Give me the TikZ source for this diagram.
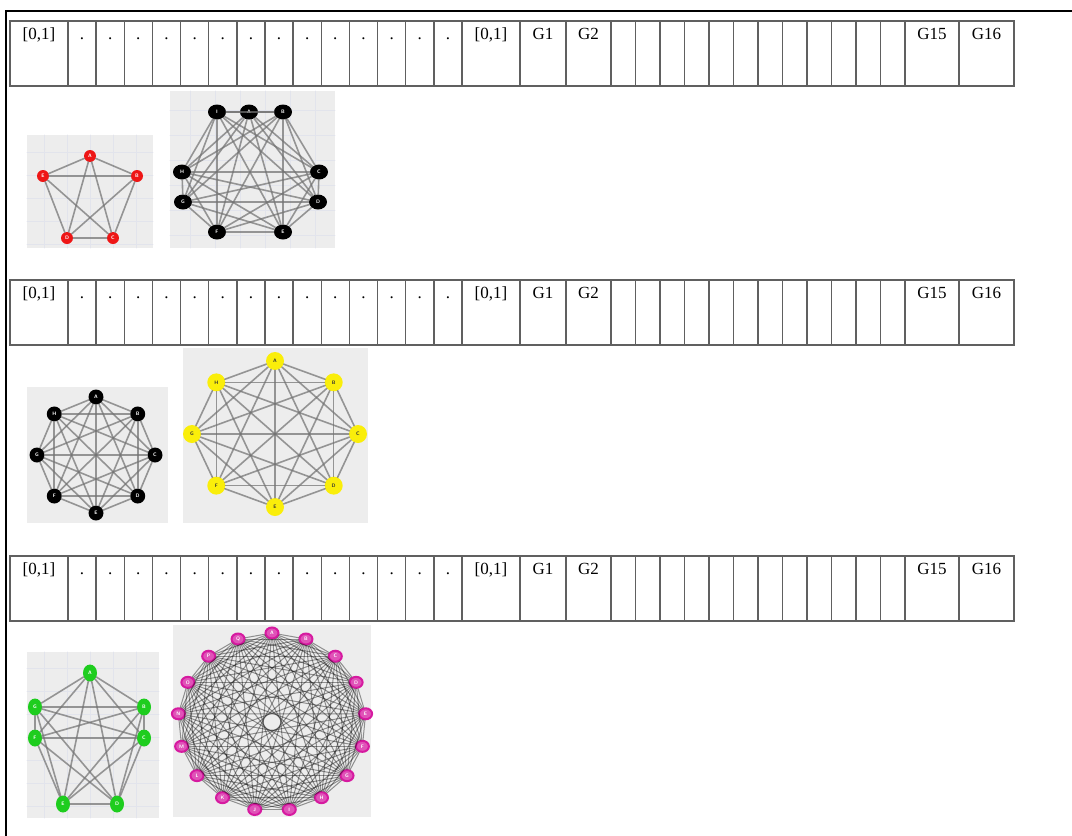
\documentclass[tikz,border=0pt]{standalone}
\usepackage{fontspec}
\setmainfont{Liberation Serif}
\usepackage{tikz}
\usetikzlibrary{shapes.geometric}
\usepackage{xcolor}
\definecolor{panelgray}{RGB}{237,237,237}
\definecolor{gridblue}{RGB}{226,228,236}
\definecolor{redvx}{RGB}{238,22,22}
\definecolor{yellowvx}{RGB}{250,238,10}
\definecolor{greenvx}{RGB}{30,205,30}
\definecolor{magentavx}{RGB}{214,26,160}

\begin{document}
\begin{tikzpicture}[x=1pt,y=-1pt,line cap=round,
  cellline/.style={draw=gray!75!black,line width=1.4pt},
  celltext/.style={anchor=base,inner sep=0pt,font=\fontsize{17}{20}\selectfont},
  panel/.style={fill=panelgray},
  gridln/.style={draw=gridblue,line width=0.7pt},
  edge/.style={draw=black!55,line width=1.6pt,opacity=0.72},
  thinedge/.style={draw=black,line width=1pt,opacity=0.4},
  vx/.style={inner sep=0pt,font=\fontsize{5}{5}\sffamily\bfseries},
  rvx/.style={vx,circle,fill=redvx,text=white,minimum size=12pt},
  kvx/.style={vx,ellipse,fill=black,text=white,minimum width=18pt,minimum height=15pt},
  bvx/.style={vx,circle,fill=black,text=white,minimum size=15pt},
  yvx/.style={vx,circle,fill=yellowvx,text=black!80,minimum size=18pt},
  gvx/.style={vx,ellipse,fill=greenvx,text=white,minimum width=14pt,minimum height=17pt},
  mvx/.style={vx,ellipse,fill=magentavx!75,draw=magentavx,line width=2pt,text=white,minimum width=13pt,minimum height=11pt}]
\useasboundingbox (0,0) rectangle (1072,836);
\fill[white] (0,0) rectangle (1072,836);
\draw[line width=2pt] (6,837) -- (6,11) -- (1073,11);

% the three rows of cells
\foreach \ty in {21,280,556}{
  \draw[cellline] (10,\ty) rectangle (1014,\ty+65);
  \foreach \cx in {68,462,520,566,611,905,959}
    \draw[cellline] (\cx,\ty) -- (\cx,\ty+65);
  \foreach \k in {1,...,13}
    \draw[cellline] (68+\k*28.143,\ty) -- (68+\k*28.143,\ty+65);
  \foreach \k in {1,...,11}
    \draw[cellline] (611+\k*24.5,\ty) -- (611+\k*24.5,\ty+65);
  \node[celltext] (lo\ty) at (39,\ty+18) {[0,1]};
  \foreach \k in {0,...,13}
    \node[celltext] (dot\ty-\k) at (82.07+\k*28.143,\ty+18) {.};
  \node[celltext] (hi\ty) at (491,\ty+18) {[0,1]};
  \node[celltext] (gone\ty) at (543,\ty+18) {G1};
  \node[celltext] (gtwo\ty) at (588.5,\ty+18) {G2};
  \node[celltext] (gfift\ty) at (932,\ty+18) {G15};
  \node[celltext] (gsixt\ty) at (986.5,\ty+18) {G16};
}

% row 1: red K5
\fill[panel] (27,135) rectangle (153,248);
\foreach \gx in {44,67,90,113,136} \draw[gridln] (\gx,135) -- (\gx,248);
\foreach \gy in {152,175,198,221,244} \draw[gridln] (27,\gy) -- (153,\gy);
\node[rvx] (r1) at (90,156) {A};
\node[rvx] (r2) at (137,176) {B};
\node[rvx] (r3) at (113,238) {C};
\node[rvx] (r4) at (67,238) {D};
\node[rvx] (r5) at (43,176) {E};
\foreach \i in {1,...,4}{
  \pgfmathtruncatemacro\ni{\i+1}
  \foreach \j in {\ni,...,5} \draw[edge] (r\i) -- (r\j);
}

% row 1: black K9
\fill[panel] (170,91) rectangle (335,248);
\foreach \gx in {190,215,240,265,290,315} \draw[gridln] (\gx,91) -- (\gx,248);
\foreach \gy in {110,135,160,185,210,235} \draw[gridln] (170,\gy) -- (335,\gy);
\node[kvx] (k1) at (249,112) {A};
\node[kvx] (k2) at (283,112) {B};
\node[kvx] (k3) at (319,172) {C};
\node[kvx] (k4) at (318,202) {D};
\node[kvx] (k5) at (283,232) {E};
\node[kvx] (k6) at (217,232) {F};
\node[kvx] (k7) at (183,202) {G};
\node[kvx] (k8) at (182,172) {H};
\node[kvx] (k9) at (217,112) {I};
\foreach \i in {1,...,8}{
  \pgfmathtruncatemacro\ni{\i+1}
  \foreach \j in {\ni,...,9} \draw[edge] (k\i) -- (k\j);
}

% row 2: black K8
\fill[panel] (27,387) rectangle (168,523);
\foreach \k/\l in {0/A,1/B,2/C,3/D,4/E,5/F,6/G,7/H}
  \node[bvx] (o\k) at ({96+59*cos(90-45*\k)},{455-58*sin(90-45*\k)}) {\l};
\foreach \i in {0,...,6}{
  \pgfmathtruncatemacro\ni{\i+1}
  \foreach \j in {\ni,...,7} \draw[edge] (o\i) -- (o\j);
}

% row 2: yellow K8
\fill[panel] (183,348) rectangle (368,523);
\foreach \k/\l in {0/A,1/B,2/C,3/D,4/E,5/F,6/G,7/H}
  \node[yvx] (y\k) at ({275+83*cos(90-45*\k)},{434-73*sin(90-45*\k)}) {\l};
\foreach \i in {0,...,6}{
  \pgfmathtruncatemacro\ni{\i+1}
  \foreach \j in {\ni,...,7} \draw[edge] (y\i) -- (y\j);
}

% row 3: green K7
\fill[panel] (27,652) rectangle (159,818);
\foreach \gx in {44,67,90,113,136} \draw[gridln] (\gx,652) -- (\gx,818);
\foreach \gy in {668,691,714,737,760,783,806} \draw[gridln] (27,\gy) -- (159,\gy);
\node[gvx] (g1) at (90,673) {A};
\node[gvx] (g2) at (144,707) {B};
\node[gvx] (g3) at (144,738) {C};
\node[gvx] (g4) at (117,804) {D};
\node[gvx] (g5) at (63,804) {E};
\node[gvx] (g6) at (35,738) {F};
\node[gvx] (g7) at (35,707) {G};
\foreach \i in {1,...,6}{
  \pgfmathtruncatemacro\ni{\i+1}
  \foreach \j in {\ni,...,7} \draw[edge] (g\i) -- (g\j);
}

% row 3: magenta K17
\fill[panel] (173,625) rectangle (371,817);
\foreach \k/\l in {0/A,1/B,2/C,3/D,4/E,5/F,6/G,7/H,8/I,9/J,10/K,11/L,12/M,13/N,14/O,15/P,16/Q}
  \node[mvx] (m\k) at ({272+94*cos(90-360/17*\k)},{722-89*sin(90-360/17*\k)}) {\l};
\foreach \i in {0,...,15}{
  \pgfmathtruncatemacro\ni{\i+1}
  \foreach \j in {\ni,...,16} \draw[thinedge] (m\i) -- (m\j);
}
\end{tikzpicture}
\end{document}
